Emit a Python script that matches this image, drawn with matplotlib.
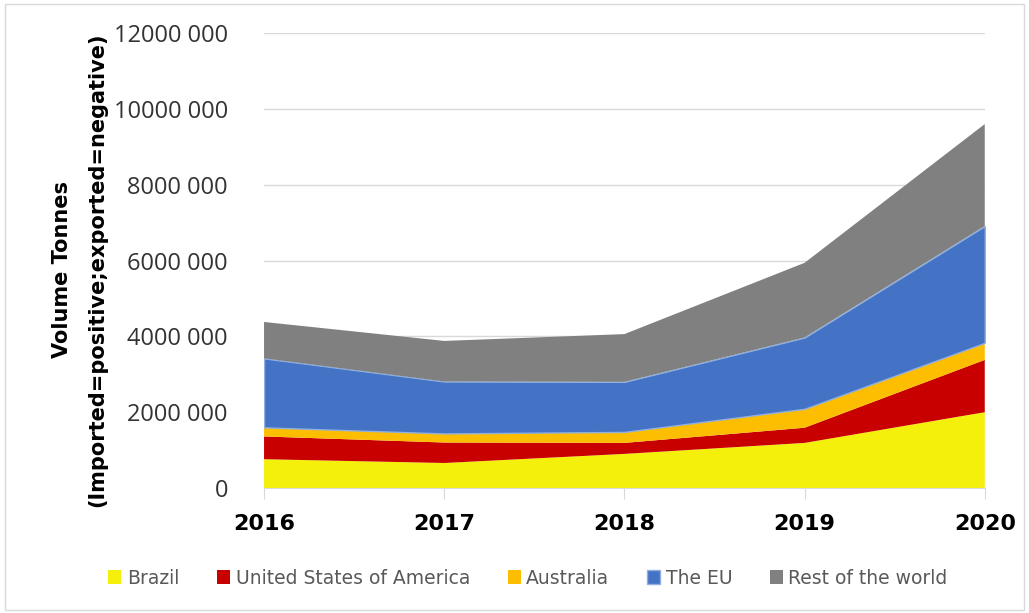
import matplotlib
matplotlib.use("Agg")
import numpy as np
from matplotlib import pyplot as plt
from matplotlib.ticker import FuncFormatter
from matplotlib.patches import Rectangle

years = [2016, 2017, 2018, 2019, 2020]
brazil = [760000, 660000, 900000, 1190000, 2000000]
usa = [600000, 540000, 290000, 400000, 1380000]
australia = [240000, 240000, 290000, 500000, 450000]
the_eu = [1820000, 1370000, 1320000, 1880000, 3080000]
rest_world = [960000, 1070000, 1260000, 1970000, 2690000]

names = ["Brazil", "United States of America", "Australia", "The EU", "Rest of the world"]
colors = ["#f4f00c", "#c80000", "#fdbd00", "#4472c4", "#808080"]

def fmt(v, pos):
    v = int(round(v))
    if v == 0:
        return "0"
    return "%d %03d" % (v // 1000, v % 1000)

fig = plt.figure(figsize=(10.29, 6.13), dpi=100)
ax = fig.add_axes([0.2566, 0.2039, 0.957 - 0.2566, 0.946 - 0.2039])

polys = ax.stackplot(years, brazil, usa, australia, the_eu, rest_world,
                     colors=colors, labels=names, linewidth=0)
polys[3].set_edgecolor("#8fb0e0")
polys[3].set_linewidth(1.0)

ax.set_xlim(2016, 2020)
ax.set_ylim(0, 12000000)
ax.set_yticks(np.arange(0, 12000001, 2000000))
ax.yaxis.set_major_formatter(FuncFormatter(fmt))
ax.set_xticks(years)
ax.set_xticklabels([str(y) for y in years], fontsize=16, fontweight="bold")
ax.grid(axis="y", color="#d9d9d9", linewidth=1)
ax.set_axisbelow(True)

for s in ["top", "right", "left"]:
    ax.spines[s].set_visible(False)
ax.spines["bottom"].set_color("#d9d9d9")
ax.tick_params(axis="y", length=0, labelsize=17, pad=26, labelcolor="#333333")
ax.tick_params(axis="x", length=8, color="#d9d9d9", pad=11)
for lbl in ax.get_yticklabels():
    lbl.set_fontfamily("Open Sans")

# two-line y label placed by hand
fig.text(62 / 1029, 1 - 270 / 613, "Volume Tonnes", rotation=90, ha="center", va="center",
         fontsize=15, fontweight="bold")
fig.text(97 / 1029, 1 - 270 / 613, "(Imported=positive;exported=negative)", rotation=90,
         ha="center", va="center", fontsize=15, fontweight="bold")

fig.legend(handles=polys, labels=names, loc="center", bbox_to_anchor=(528 / 1029, 1 - 578 / 613),
           ncol=5, frameon=False, fontsize=13.5, labelcolor="#595959", handlelength=0.7,
           handleheight=0.7, handletextpad=0.3, columnspacing=2.0)

fig.patches.append(Rectangle((0.005, 0.005), 0.99, 0.988, transform=fig.transFigure,
                             fill=False, edgecolor="#d9d9d9", linewidth=1))

fig.savefig("out.png", dpi=100)
